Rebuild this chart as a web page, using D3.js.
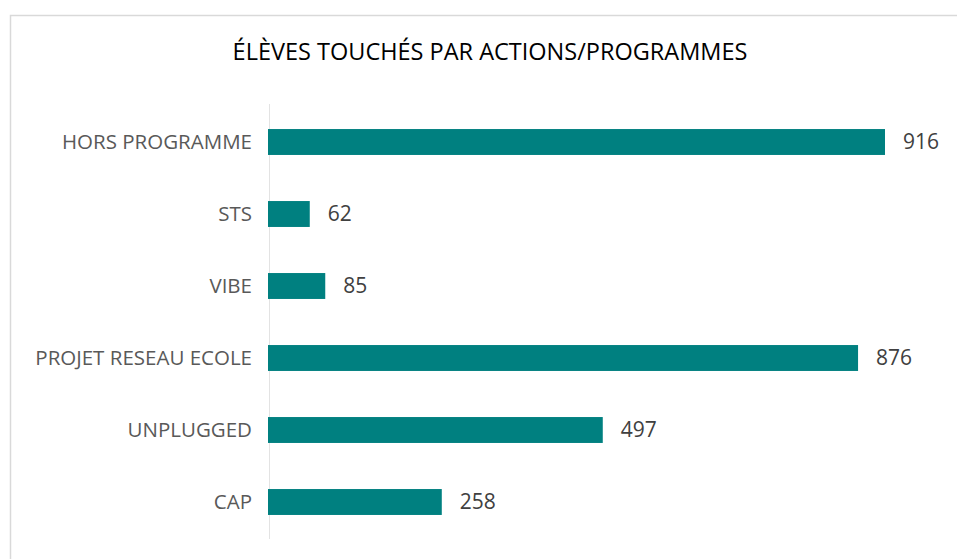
<!DOCTYPE html>
<html>
<head>
<meta charset="utf-8">
<script src="https://cdn.jsdelivr.net/npm/d3@7"></script>
<style>
  body { margin: 0; background: #fff; }
  svg { display: block; font-family: "Open Sans", "Noto Sans", sans-serif; }
</style>
</head>
<body>
<div id="chart"></div>
<script>
const categories = ['HORS PROGRAMME', 'STS', 'VIBE', 'PROJET RESEAU ECOLE', 'UNPLUGGED', 'CAP'];
const values = [916, 62, 85, 876, 497, 258];
const title = 'ÉLÈVES TOUCHÉS PAR ACTIONS/PROGRAMMES';

const width = 957, height = 559;
const margin = { top: 106, left: 268, bottom: 21 };

const svg = d3.select('#chart').append('svg')
  .attr('width', width)
  .attr('height', height);

// chart frame (runs off the right and bottom edge)
svg.append('rect')
  .attr('x', 10.5).attr('y', 15.5)
  .attr('width', 980).attr('height', 600)
  .attr('fill', '#fff')
  .attr('stroke', '#d9d9d9')
  .attr('stroke-width', 1.5);

svg.append('text')
  .attr('x', 490).attr('y', 60)
  .attr('text-anchor', 'middle')
  .attr('font-size', 23.5)
  .attr('fill', '#000')
  .text(title);

const x = d3.scaleLinear()
  .domain([0, 916])
  .range([margin.left, 885]);

const y = d3.scaleBand()
  .domain(categories)
  .range([margin.top, height - margin.bottom])
  .paddingInner(0.64)
  .paddingOuter(0.32);

// vertical axis line
svg.append('line')
  .attr('x1', 269.5).attr('x2', 269.5)
  .attr('y1', 104).attr('y2', 539)
  .attr('stroke', '#e3e3e3');

svg.append('g').selectAll('rect.bar')
  .data(categories)
  .join('rect')
  .attr('class', 'bar')
  .attr('x', x(0))
  .attr('y', d => y(d))
  .attr('width', (d, i) => x(values[i]) - x(0))
  .attr('height', y.bandwidth())
  .attr('fill', '#008080');

svg.append('g').selectAll('text.cat')
  .data(categories)
  .join('text')
  .attr('class', 'cat')
  .attr('x', 252)
  .attr('y', d => y(d) + y.bandwidth() / 2)
  .attr('dy', '0.35em')
  .attr('text-anchor', 'end')
  .attr('font-size', 20.5)
  .attr('fill', '#595959')
  .text(d => d);

svg.append('g').selectAll('text.val')
  .data(categories)
  .join('text')
  .attr('class', 'val')
  .attr('x', (d, i) => x(values[i]) + 18)
  .attr('y', d => y(d) + y.bandwidth() / 2)
  .attr('dy', '0.35em')
  .attr('font-size', 21)
  .attr('fill', '#404040')
  .text((d, i) => values[i]);
</script>
</body>
</html>
